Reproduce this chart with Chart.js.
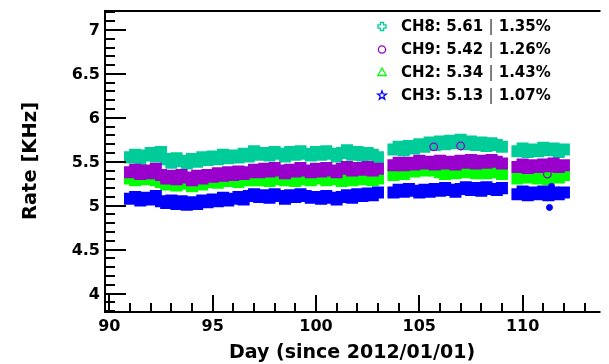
<!DOCTYPE html>
<html>
<head>
<meta charset="utf-8">
<script src="https://cdn.jsdelivr.net/npm/chart.js@4/dist/chart.umd.min.js"></script>
<style>
  html, body { margin: 0; padding: 0; background: #fff; overflow: hidden; }
  canvas { display: block; }
</style>
</head>
<body>
<canvas id="rateChart" width="609" height="364"></canvas>
<script>
// sample times (day since 2012/01/01), one reading every 6 h
const days = [
  91.00, 91.25, 91.50, 91.75, 92.00, 92.25, 92.50, 92.75, 93.00, 93.25,
  93.50, 93.75, 94.00, 94.25, 94.50, 94.75, 95.00, 95.25, 95.50, 95.75,
  96.00, 96.25, 96.50, 96.75, 97.00, 97.25, 97.50, 97.75, 98.00, 98.25,
  98.50, 98.75, 99.00, 99.25, 99.50, 99.75, 100.00, 100.25, 100.50, 100.75,
  101.00, 101.25, 101.50, 101.75, 102.00, 102.25, 102.50, 102.75, 103.00, 103.25,
  103.50, 103.75, 104.00, 104.25, 104.50, 104.75, 105.00, 105.25, 105.50, 105.75,
  106.00, 106.25, 106.50, 106.75, 107.00, 107.25, 107.50, 107.75, 108.00, 108.25,
  108.50, 108.75, 109.00, 109.25, 109.50, 109.75, 110.00, 110.25, 110.50, 110.75,
  111.00, 111.25, 111.50, 111.75, 112.00
];

// rates in KHz (null = no data)
const ch8 = [
  5.55, 5.58, 5.52, 5.57, 5.60, 5.56, 5.61, 5.53, 5.49, 5.54,
  5.51, 5.48, 5.53, 5.50, 5.55, 5.52, 5.56, 5.53, 5.58, 5.54,
  5.57, 5.55, 5.59, 5.56, 5.62, 5.58, 5.60, 5.57, 5.61, 5.59,
  5.56, 5.61, 5.58, 5.62, 5.59, 5.57, 5.61, 5.58, 5.62, 5.59,
  5.56, 5.60, 5.63, 5.58, 5.61, 5.57, 5.60, 5.58, 5.55, null,
  null, 5.64, 5.67, 5.63, 5.68, 5.65, 5.70, 5.67, 5.72, 5.69,
  5.73, 5.70, 5.74, 5.71, 5.75, 5.70, 5.73, 5.69, 5.72, 5.68,
  5.71, 5.69, 5.67, null, null, 5.62, 5.65, 5.61, 5.64, 5.62,
  5.66, 5.63, 5.65, 5.61, 5.64
];
const ch9 = [
  5.38, 5.41, 5.36, 5.40, 5.37, 5.42, 5.35, 5.31, 5.34, 5.30,
  5.35, 5.32, 5.29, 5.34, 5.31, 5.35, 5.33, 5.37, 5.34, 5.38,
  5.35, 5.39, 5.36, 5.38, 5.41, 5.38, 5.42, 5.39, 5.43, 5.40,
  5.37, 5.41, 5.39, 5.43, 5.40, 5.38, 5.42, 5.39, 5.43, 5.40,
  5.38, 5.42, 5.44, 5.40, 5.43, 5.41, 5.44, 5.40, 5.42, null,
  null, 5.46, 5.49, 5.46, 5.49, 5.47, 5.51, 5.48, 5.50, 5.47,
  5.51, 5.48, 5.50, 5.47, 5.51, 5.49, 5.52, 5.48, 5.51, 5.49,
  5.52, 5.50, 5.48, null, null, 5.44, 5.47, 5.43, 5.46, 5.44,
  5.47, 5.45, 5.48, 5.44, 5.46
];
const ch2 = [
  5.31, 5.29, 5.33, 5.30, 5.32, 5.29, 5.27, 5.24, 5.26, 5.23,
  5.27, 5.25, 5.22, 5.26, 5.24, 5.27, 5.28, 5.26, 5.30, 5.28,
  5.31, 5.27, 5.30, 5.29, 5.31, 5.29, 5.32, 5.28, 5.30, 5.33,
  5.29, 5.31, 5.28, 5.32, 5.30, 5.29, 5.31, 5.33, 5.29, 5.32,
  5.30, 5.28, 5.31, 5.29, 5.32, 5.30, 5.33, 5.29, 5.31, null,
  null, 5.35, 5.38, 5.36, 5.41, 5.39, 5.42, 5.40, 5.43, 5.40,
  5.38, 5.36, 5.39, 5.37, 5.39, 5.38, 5.40, 5.37, 5.40, 5.37,
  5.39, 5.38, 5.36, null, null, 5.31, 5.34, 5.32, 5.35, 5.31,
  5.33, 5.30, 5.34, 5.32, 5.35
];
const ch3 = [
  5.08, 5.10, 5.06, 5.09, 5.07, 5.11, 5.05, 5.03, 5.06, 5.02,
  5.05, 5.01, 5.04, 5.02, 5.06, 5.04, 5.07, 5.05, 5.09, 5.06,
  5.08, 5.10, 5.07, 5.11, 5.13, 5.10, 5.12, 5.09, 5.13, 5.11,
  5.08, 5.12, 5.10, 5.13, 5.11, 5.09, 5.10, 5.08, 5.11, 5.09,
  5.07, 5.10, 5.12, 5.09, 5.13, 5.11, 5.14, 5.12, 5.15, null,
  null, 5.15, 5.18, 5.16, 5.19, 5.17, 5.15, 5.18, 5.16, 5.19,
  5.17, 5.20, 5.18, 5.16, 5.19, 5.21, 5.18, 5.20, 5.17, 5.21,
  5.19, 5.18, 5.20, null, null, 5.13, 5.16, 5.12, 5.15, 5.13,
  5.16, 5.12, 5.15, 5.13, 5.15
];

// isolated readings away from the bands
const ch9Stray = [{ x: 105.7, y: 5.67 }, { x: 107.0, y: 5.68 }, { x: 111.2, y: 5.36 }];
const ch3Stray = [{ x: 111.3, y: 4.98 }, { x: 111.4, y: 5.22 }];

// legend: channel, mean rate [KHz], rms spread [%]
const channels = ["CH8", "CH9", "CH2", "CH3"];
const means = [5.61, 5.42, 5.34, 5.13];
const spreads = [1.35, 1.26, 1.43, 1.07];
const colors = ["#00cc99", "#9900cc", "#00ff00", "#0000ff"];
const markers = ["cross", "circle", "triangle", "star"];

const xMajor = [90, 95, 100, 105, 110];
const yMajor = [4, 4.5, 5, 5.5, 6, 6.5, 7];

const FONT = "'DejaVu Sans', 'Liberation Sans', sans-serif";

const toPoints = vals => days.map((d, i) => ({ x: d, y: vals[i] }));

// ROOT-like open markers
function drawMarker(ctx, type, cx, cy, color) {
    ctx.save();
    ctx.strokeStyle = color;
    ctx.lineWidth = 1.3;
    ctx.beginPath();
    if (type === "circle") {
        ctx.arc(cx, cy, 3.6, 0, Math.PI * 2);
    } else if (type === "triangle") {
        ctx.moveTo(cx, cy - 4.5);
        ctx.lineTo(cx + 4.2, cy + 3);
        ctx.lineTo(cx - 4.2, cy + 3);
        ctx.closePath();
    } else if (type === "cross") {
        const a = 1.6, b = 4;
        ctx.moveTo(cx - a, cy - b); ctx.lineTo(cx + a, cy - b); ctx.lineTo(cx + a, cy - a);
        ctx.lineTo(cx + b, cy - a); ctx.lineTo(cx + b, cy + a); ctx.lineTo(cx + a, cy + a);
        ctx.lineTo(cx + a, cy + b); ctx.lineTo(cx - a, cy + b); ctx.lineTo(cx - a, cy + a);
        ctx.lineTo(cx - b, cy + a); ctx.lineTo(cx - b, cy - a); ctx.lineTo(cx - a, cy - a);
        ctx.closePath();
    } else if (type === "star") {
        for (let k = 0; k < 10; k++) {
            const r = k % 2 === 0 ? 4.6 : 1.9;
            const ang = -Math.PI / 2 + k * Math.PI / 5;
            const px = cx + r * Math.cos(ang), py = cy + r * Math.sin(ang);
            if (k === 0) ctx.moveTo(px, py); else ctx.lineTo(px, py);
        }
        ctx.closePath();
    }
    ctx.stroke();
    ctx.restore();
}

// frame (left/top/bottom), inward ticks, tick labels, axis titles
const frameAxes = {
    id: "frameAxes",
    afterDatasetsDraw(chart) {
        const { ctx, chartArea: a, scales: { x, y } } = chart;
        ctx.save();
        ctx.strokeStyle = "#000";
        ctx.lineWidth = 2;
        ctx.beginPath();
        ctx.moveTo(a.right, a.top);
        ctx.lineTo(a.left, a.top);
        ctx.lineTo(a.left, a.bottom);
        ctx.lineTo(a.right, a.bottom);
        ctx.stroke();

        ctx.beginPath();
        for (let d = 90; d <= 113; d++) {
            const px = Math.round(x.getPixelForValue(d));
            const len = d % 5 === 0 ? 17 : 9;
            ctx.moveTo(px, a.bottom);
            ctx.lineTo(px, a.bottom - len);
        }
        for (let k = 38; k <= 72; k++) {
            const py = Math.round(y.getPixelForValue(k / 10));
            const len = k % 5 === 0 ? 21 : 10;
            ctx.moveTo(a.left, py);
            ctx.lineTo(a.left + len, py);
        }
        ctx.stroke();

        ctx.fillStyle = "#000";
        ctx.font = "bold 16px " + FONT;
        ctx.textAlign = "right";
        ctx.textBaseline = "middle";
        yMajor.forEach(v => ctx.fillText(String(v), a.left - 5, y.getPixelForValue(v) + 1));
        ctx.textAlign = "center";
        ctx.textBaseline = "top";
        xMajor.forEach(v => ctx.fillText(String(v), x.getPixelForValue(v), a.bottom + 7));

        ctx.font = "bold 19px " + FONT;
        ctx.textBaseline = "alphabetic";
        ctx.fillText("Day (since 2012/01/01)", 352, 358);

        ctx.save();
        ctx.translate(31, 161);
        ctx.rotate(-Math.PI / 2);
        ctx.font = "bold 19.5px " + FONT;
        ctx.textBaseline = "middle";
        ctx.fillText("Rate [KHz]", 0, 0);
        ctx.restore();
        ctx.restore();
    }
};

// legend in the upper right, no box
const channelLegend = {
    id: "channelLegend",
    afterDraw(chart) {
        const { ctx } = chart;
        const bold = "bold 15px " + FONT;
        ctx.save();
        ctx.fillStyle = "#000";
        ctx.textAlign = "left";
        ctx.textBaseline = "middle";
        channels.forEach((ch, i) => {
            const cy = 26.5 + i * 23;
            drawMarker(ctx, markers[i], 382, cy, colors[i]);
            let tx = 401;
            const head = ch + ": " + means[i].toFixed(2) + " ";
            ctx.font = bold;
            ctx.fillText(head, tx, cy + 1);
            tx += ctx.measureText(head).width;
            ctx.font = "15px " + FONT;
            ctx.fillStyle = "#333";
            ctx.fillText("|", tx, cy + 1);
            tx += ctx.measureText("|").width;
            ctx.font = bold;
            ctx.fillStyle = "#000";
            ctx.fillText(" " + spreads[i].toFixed(2) + "%", tx, cy + 1);
        });
        ctx.restore();
    }
};

// square markers, heavily overlapping, so each channel reads as a band
const band = (vals, i, order) => ({
    data: toPoints(vals),
    backgroundColor: colors[i],
    borderWidth: 0,
    pointStyle: "rect",
    pointRadius: 8.5,
    showLine: false,
    order: order
});

new Chart(document.getElementById("rateChart"), {
    type: "scatter",
    data: {
        datasets: [
            { data: ch9Stray, borderColor: colors[1], backgroundColor: "rgba(0,0,0,0)", borderWidth: 1.3, pointRadius: 3.8, order: 0 },
            { data: ch3Stray, borderColor: colors[3], backgroundColor: colors[3], borderWidth: 1, pointRadius: 3, order: 0 },
            band(ch9, 1, 1),
            band(ch3, 3, 2),
            band(ch2, 2, 3),
            band(ch8, 0, 4)
        ]
    },
    options: {
        responsive: false,
        devicePixelRatio: 1,
        animation: false,
        layout: { padding: { left: 105, top: 11, right: 0, bottom: 52 } },
        scales: {
            x: { type: "linear", min: 89.79, max: 113.77, display: false },
            y: { type: "linear", min: 3.79, max: 7.216, display: false }
        },
        plugins: {
            legend: { display: false },
            tooltip: { enabled: false }
        }
    },
    plugins: [frameAxes, channelLegend]
});
</script>
</body>
</html>
